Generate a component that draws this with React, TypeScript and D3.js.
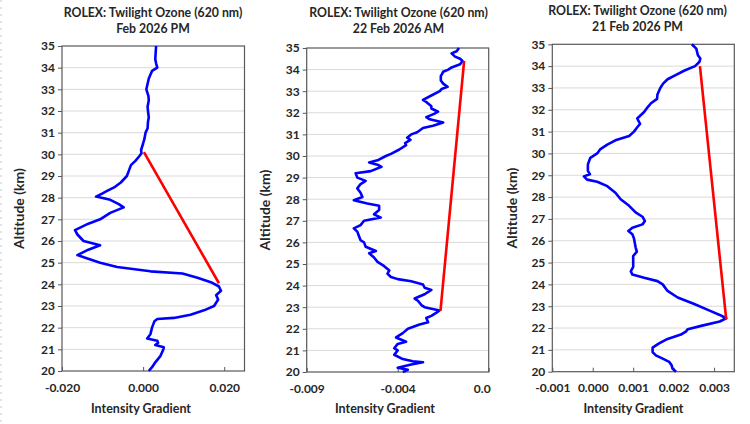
import React, { useEffect, useRef } from "react";
import * as d3 from "d3";

type Pt = [number, number]; // [altitude (km), intensity gradient]

const titleLine = "ROLEX: Twilight Ozone (620 nm)";
const dateLines = ["Feb 2026 PM", "22 Feb 2026 AM", "21 Feb 2026 PM"];
const altTicks = [20, 21, 22, 23, 24, 25, 26, 27, 28, 29, 30, 31, 32, 33, 34, 35];

const ticksFeb = [-0.02, 0.0, 0.02];
const ticks22 = [-0.009, -0.004, 0.001];
const ticks21 = [-0.001, 0.0, 0.001, 0.002, 0.003];

const profileFeb: Pt[] = [
  [35.0, 0.0032], [34.7, 0.0031], [34.4, 0.003], [34.2, 0.0032], [34.0, 0.0035],
  [33.85, 0.0022], [33.5, 0.0014], [33.0, 0.0008], [32.7, 0.0013], [32.5, 0.0014],
  [32.2, 0.0011], [32.0, 0.0012], [31.7, 0.0014], [31.5, 0.0012], [31.2, 0.0011],
  [31.0, 0.0006], [30.7, 0.0003], [30.5, 0.0], [30.2, -0.0005], [30.05, -0.0004],
  [29.9, -0.001], [29.7, -0.0019], [29.5, -0.003], [29.2, -0.0036], [29.0, -0.004],
  [28.7, -0.0055], [28.5, -0.0069], [28.3, -0.009], [28.2, -0.01], [28.05, -0.0116],
  [27.9, -0.0081], [27.7, -0.006], [27.55, -0.0048], [27.3, -0.0081], [27.0, -0.0106],
  [26.8, -0.0135], [26.5, -0.0168], [26.3, -0.0162], [26.0, -0.0147], [25.8, -0.0106],
  [25.6, -0.0135], [25.35, -0.0162], [25.2, -0.0139], [25.0, -0.0106], [24.8, -0.0064],
  [24.6, 0.0018], [24.5, 0.0097], [24.3, 0.0134], [24.1, 0.0167], [23.9, 0.0187],
  [23.7, 0.0192], [23.5, 0.018], [23.3, 0.0185], [23.0, 0.0175], [22.8, 0.015],
  [22.6, 0.0117], [22.45, 0.0076], [22.4, 0.0035], [22.3, 0.0028], [22.0, 0.0022],
  [21.7, 0.0018], [21.5, 0.001], [21.4, 0.0035], [21.3, 0.0037], [21.2, 0.003],
  [21.1, 0.0051], [21.0, 0.005], [20.7, 0.0043], [20.4, 0.003], [20.2, 0.0023],
  [20.0, 0.0014],
];

const profile22: Pt[] = [
  [35.0, -0.00063], [34.85, -0.00076], [34.75, -0.00104], [34.6, -0.00085], [34.5, -0.00057],
  [34.4, -0.00044], [34.25, -0.00057], [34.1, -0.00104], [34.0, -0.00122], [33.9, -0.0015],
  [33.7, -0.00163], [33.5, -0.00163], [33.35, -0.0015], [33.2, -0.00126], [33.1, -0.00159],
  [33.0, -0.00169], [32.8, -0.00215], [32.6, -0.00261], [32.5, -0.00243], [32.3, -0.00215],
  [32.2, -0.00215], [32.05, -0.00178], [31.95, -0.002], [31.8, -0.00243], [31.7, -0.00224],
  [31.55, -0.0015], [31.4, -0.00206], [31.3, -0.00261], [31.1, -0.00293], [31.0, -0.00326],
  [30.85, -0.00348], [30.75, -0.0033], [30.6, -0.00359], [30.5, -0.00354], [30.3, -0.00391],
  [30.1, -0.00437], [30.0, -0.00465], [29.8, -0.00511], [29.7, -0.00557], [29.6, -0.00511],
  [29.5, -0.00489], [29.3, -0.00548], [29.2, -0.00631], [29.0, -0.00622], [28.85, -0.00576],
  [28.7, -0.00604], [28.5, -0.00622], [28.3, -0.00604], [28.1, -0.00594], [27.95, -0.00641],
  [27.8, -0.00567], [27.7, -0.00502], [27.5, -0.00502], [27.3, -0.0053], [27.15, -0.00493],
  [27.0, -0.00585], [26.8, -0.00604], [26.65, -0.00641], [26.5, -0.00622], [26.3, -0.00613],
  [26.1, -0.00604], [26.0, -0.00585], [25.8, -0.00576], [25.6, -0.0052], [25.5, -0.00557],
  [25.3, -0.0053], [25.1, -0.00511], [24.9, -0.00474], [24.7, -0.00446], [24.55, -0.00456],
  [24.4, -0.00437], [24.3, -0.004], [24.2, -0.00326], [24.05, -0.00261], [23.9, -0.00252],
  [23.8, -0.00215], [23.6, -0.00252], [23.4, -0.00307], [23.3, -0.00289], [23.1, -0.0027],
  [23.0, -0.00252], [22.85, -0.0017], [22.75, -0.00187], [22.6, -0.00215], [22.5, -0.00243],
  [22.3, -0.00233], [22.2, -0.0028], [22.0, -0.00344], [21.8, -0.00372], [21.6, -0.00409],
  [21.4, -0.00354], [21.3, -0.004], [21.1, -0.00419], [21.0, -0.004], [20.8, -0.00419],
  [20.6, -0.00372], [20.5, -0.00317], [20.45, -0.00261], [20.35, -0.00326], [20.2, -0.004],
  [20.1, -0.00344], [20.0, -0.00372],
];

const profile21: Pt[] = [
  [35.0, 0.00245], [34.8, 0.00256], [34.5, 0.0026], [34.35, 0.00266], [34.2, 0.00264],
  [34.0, 0.00253], [33.8, 0.00227], [33.6, 0.00206], [33.4, 0.00185], [33.2, 0.00174],
  [33.0, 0.00167], [32.7, 0.0016], [32.5, 0.00159], [32.3, 0.00144], [32.1, 0.00135],
  [31.9, 0.00127], [31.6, 0.0011], [31.35, 0.00117], [31.2, 0.0011], [31.0, 0.00102],
  [30.8, 0.0009], [30.6, 0.00056], [30.4, 0.00036], [30.2, 0.00019], [30.0, 0.00011],
  [29.8, -0.00006], [29.5, -0.00012], [29.2, -0.00012], [29.05, -0.00007], [28.95, -0.00022],
  [28.8, -0.00014], [28.7, 0.00011], [28.5, 0.00036], [28.2, 0.00056], [27.9, 0.00069],
  [27.6, 0.0009], [27.3, 0.00106], [27.1, 0.00123], [26.9, 0.00129], [26.75, 0.00123],
  [26.6, 0.00098], [26.45, 0.00088], [26.3, 0.00098], [26.1, 0.00102], [25.9, 0.00104],
  [25.7, 0.00106], [25.5, 0.00109], [25.3, 0.001], [25.0, 0.001], [24.8, 0.001],
  [24.6, 0.00094], [24.45, 0.00098], [24.3, 0.00127], [24.15, 0.0016], [24.0, 0.00173],
  [23.7, 0.00185], [23.4, 0.0021], [23.1, 0.00251], [22.8, 0.00289], [22.6, 0.00314],
  [22.45, 0.0033], [22.3, 0.00314], [22.1, 0.00268], [21.95, 0.00235], [21.85, 0.00231],
  [21.7, 0.00218], [21.5, 0.00185], [21.3, 0.00164], [21.1, 0.00148], [20.9, 0.00148],
  [20.75, 0.00156], [20.6, 0.00173], [20.45, 0.00189], [20.3, 0.00195], [20.15, 0.00197],
  [20.0, 0.00206],
];

// red straight segments: [altitude, gradient] end points
const segFeb: Pt[] = [[30.1, 0.0002], [24.05, 0.0187]];
const seg22: Pt[] = [[34.4, -0.00035], [22.83, -0.00165]];
const seg21: Pt[] = [[34.0, 0.00265], [22.4, 0.0033]];

const panels = [
  {
    profile: profileFeb, seg: segFeb, ticks: ticksFeb, domain: [-0.02, 0.025],
    left: 62, right: 244.5, top: 46, bottom: 371, titleX: 153, titleY: 17, xTitleX: 141,
    yTitleX: 24, clip: null as null | [number, number],
  },
  {
    profile: profile22, seg: seg22, ticks: ticks22, domain: [-0.009, 0.001],
    left: 306.7, right: 488.7, top: 48, bottom: 372, titleX: 398.5, titleY: 17, xTitleX: 385,
    yTitleX: 270, clip: [250, 491] as null | [number, number],
  },
  {
    profile: profile21, seg: seg21, ticks: ticks21, domain: [-0.001, 0.0035],
    left: 552.3, right: 734.3, top: 44.3, bottom: 371.7, titleX: 637.5, titleY: 15, xTitleX: 633.5,
    yTitleX: 517, clip: null as null | [number, number],
  },
];

const FONT = "Lato, 'Open Sans', sans-serif";
const fmtX = (d: d3.NumberValue) => d3.format(".3f")(d).replace("\u2212", "-");

const App: React.FC = () => {
  const ref = useRef<SVGSVGElement | null>(null);

  useEffect(() => {
    if (!ref.current) return;
    const svg = d3.select(ref.current);
    svg.selectAll("*").remove();

    svg.append("rect").attr("width", 750).attr("height", 424).attr("fill", "#fff");

    // faint dotted edge at the far left
    svg.append("line")
      .attr("x1", 1).attr("x2", 1).attr("y1", 0).attr("y2", 424)
      .attr("stroke", "#c8c8c8").attr("stroke-dasharray", "2,5");

    const defs = svg.append("defs");

    panels.forEach((p, i) => {
      let g = svg.append("g");
      if (p.clip) {
        defs.append("clipPath").attr("id", `crop${i}`)
          .append("rect").attr("x", p.clip[0]).attr("y", 0)
          .attr("width", p.clip[1] - p.clip[0]).attr("height", 424);
        g = g.attr("clip-path", `url(#crop${i})`).append("g");
      }

      const x = d3.scaleLinear().domain(p.domain).range([p.left, p.right]);
      const y = d3.scaleLinear().domain([20, 35]).range([p.bottom, p.top]);

      // gridlines
      g.append("g").selectAll("line")
        .data(altTicks.filter((t) => t > 20 && t < 35))
        .join("line")
        .attr("x1", p.left).attr("x2", p.right)
        .attr("y1", (d) => y(d)).attr("y2", (d) => y(d))
        .attr("stroke", "#d9d9d9").attr("stroke-width", 1);

      // frame
      g.append("rect")
        .attr("x", p.left).attr("y", p.top)
        .attr("width", p.right - p.left).attr("height", p.bottom - p.top)
        .attr("fill", "none").attr("stroke", "#595959").attr("stroke-width", 1.2);

      // y axis
      const yAxis = g.append("g").attr("transform", `translate(${p.left},0)`)
        .call(d3.axisLeft(y).tickValues(altTicks).tickSize(4).tickPadding(3).tickFormat(d3.format("d")));
      yAxis.select(".domain").remove();
      yAxis.selectAll("line").attr("stroke", "#595959");
      yAxis.selectAll("text")
        .attr("font-family", FONT).attr("font-weight", "bold").attr("font-size", 12)
        .attr("fill", "#262626");

      // x axis, ticks pointing inward
      const xAxis = g.append("g").attr("transform", `translate(0,${p.bottom})`)
        .call(d3.axisBottom(x).tickValues(p.ticks).tickSize(-4).tickPadding(12).tickFormat(fmtX));
      xAxis.select(".domain").remove();
      xAxis.selectAll("line").attr("stroke", "#595959");
      xAxis.selectAll("text")
        .attr("font-family", FONT).attr("font-weight", "bold").attr("font-size", 12)
        .attr("fill", "#262626");

      const line = d3.line<Pt>().x((d) => x(d[1])).y((d) => y(d[0]));

      g.append("path").datum(p.profile)
        .attr("d", line)
        .attr("fill", "none").attr("stroke", "#0000ff").attr("stroke-width", 2.6)
        .attr("stroke-linejoin", "round");

      g.append("path").datum(p.seg)
        .attr("d", line)
        .attr("fill", "none").attr("stroke", "#ff0000").attr("stroke-width", 2.6);

      // titles
      const t = g.append("text")
        .attr("x", p.titleX).attr("y", p.titleY)
        .attr("text-anchor", "middle")
        .attr("font-family", FONT).attr("font-weight", "bold").attr("font-size", 12.3)
        .attr("fill", "#262626");
      t.append("tspan").attr("x", p.titleX).text(titleLine);
      t.append("tspan").attr("x", p.titleX).attr("dy", 16).text(dateLines[i]);

      g.append("text")
        .attr("x", p.xTitleX).attr("y", 413)
        .attr("text-anchor", "middle")
        .attr("font-family", FONT).attr("font-weight", "bold").attr("font-size", 12.5)
        .attr("fill", "#262626")
        .text("Intensity Gradient");

      const cy = (p.top + p.bottom) / 2;
      g.append("text")
        .attr("transform", `translate(${p.yTitleX},${cy}) rotate(-90)`)
        .attr("text-anchor", "middle")
        .attr("font-family", FONT).attr("font-weight", "bold").attr("font-size", 14)
        .attr("fill", "#262626")
        .text("Altitude (km)");
    });
  }, []);

  return (
    <svg
      ref={ref}
      width={750}
      height={424}
      style={{ position: "absolute", left: 0, top: 0 }}
    />
  );
};

export default App;
